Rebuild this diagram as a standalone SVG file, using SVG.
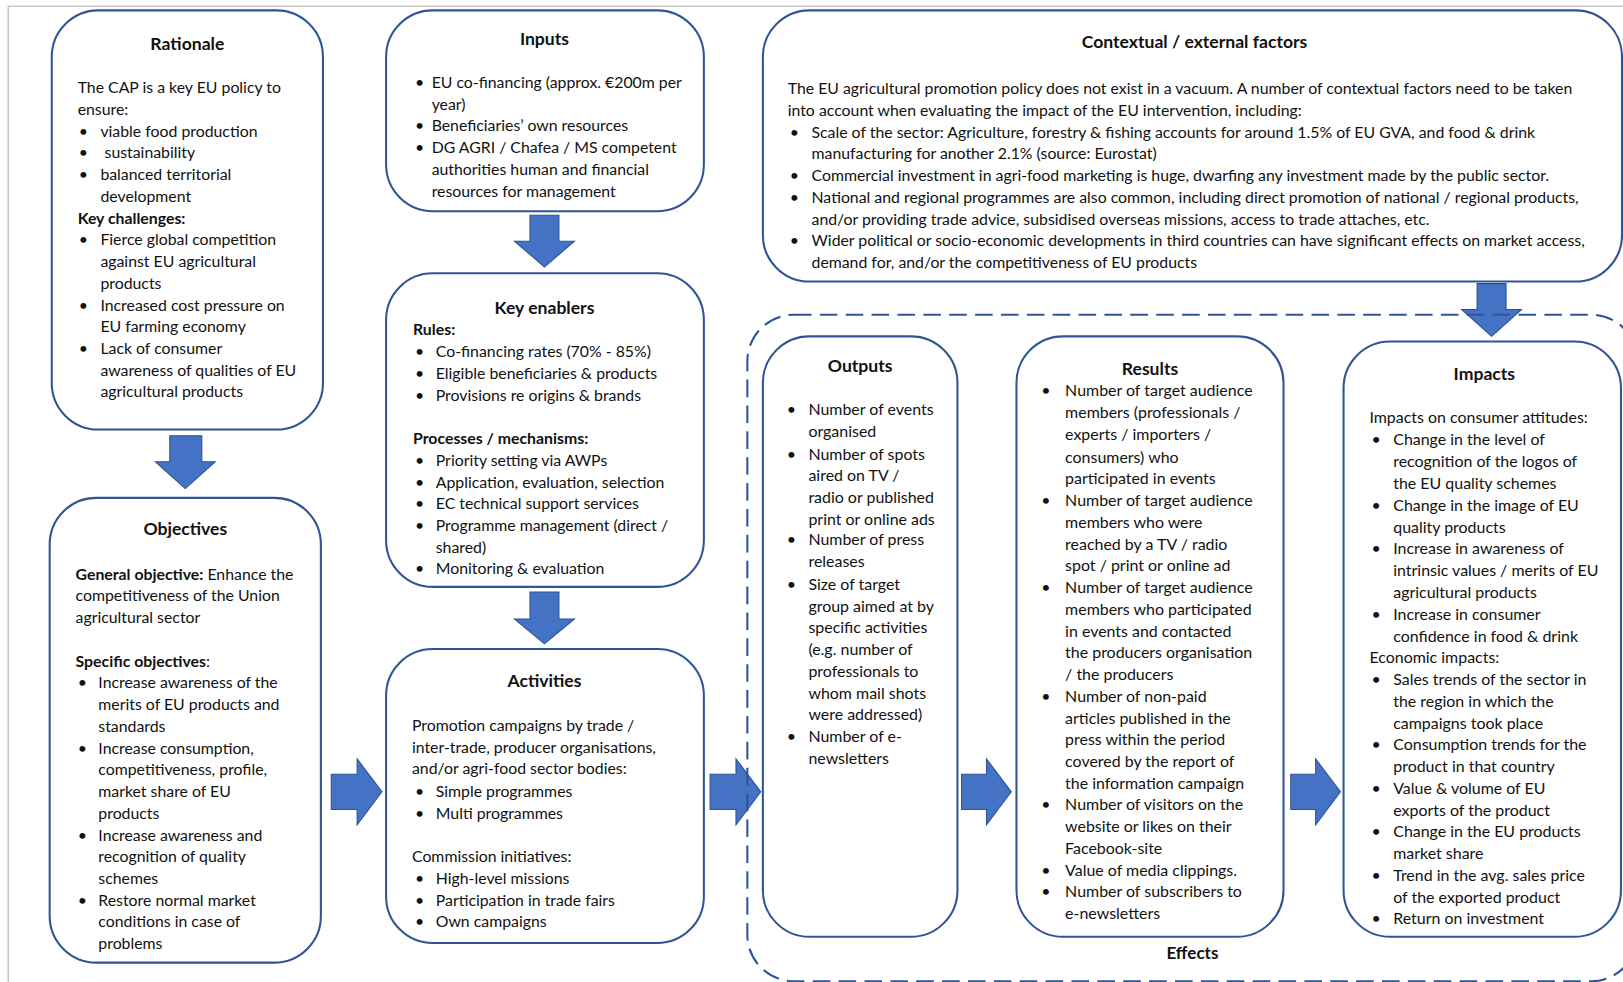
<svg xmlns="http://www.w3.org/2000/svg" width="1623" height="982" viewBox="0 0 1623 982">
<style>
.box{fill:#fff;stroke:#2F5597;stroke-width:2}
.dash{fill:none;stroke:#2F5597;stroke-width:2;stroke-dasharray:17 8}
.arr{fill:#4472C4;stroke:#2F528F;stroke-width:1}
text{font-family:Lato,"Open Sans",sans-serif;fill:#111}
.t{font-size:15.4px}
.n{font-size:15.3px}
.h{font-size:17px;font-weight:bold;text-anchor:middle}
.b{font-weight:bold}
.frame{stroke:#c8c8c8;stroke-width:1.5;fill:none}
</style>
<rect width="1623" height="982" fill="#fff"/>
<g transform="scale(1.0351)">
<path class="frame" d="M8,949 V6 H1568"/>

<g id="connectors">
<polygon class="arr" points="164,421 195,421 195,446 208,446 179,472 150,446 164,446"/>
<polygon class="arr" points="512,208 540,208 540,233 555,233 526,258 497,233 512,233"/>
<polygon class="arr" points="512,572 540,572 540,598 555,598 526,622 497,598 512,598"/>
<polygon class="arr" points="1427,274 1455,274 1455,299 1470,299 1441,325 1412,299 1427,299"/>
<polygon class="arr" points="320,748 345,748 345,733 369,765 345,797 345,782 320,782"/>
<polygon class="arr" points="686,748 711,748 711,733 735,765 711,797 711,782 686,782"/>
<polygon class="arr" points="929,748 953,748 953,733 977,765 953,797 953,782 929,782"/>
<polygon class="arr" points="1247,748 1271,748 1271,733 1295,765 1271,797 1271,782 1247,782"/>
</g>

<g id="effects">
<rect class="dash" x="722" y="304" width="860" height="644" rx="45"/>
<text class="b" x="1152" y="926" text-anchor="middle" style="font-size:16.5px">Effects</text>
</g>

<g id="rationale">
<rect class="box" x="50" y="10" width="262" height="405" rx="45"/>
<text class="h" x="181" y="48">Rationale</text>
<g class="n">
<text x="75" y="90">The CAP is a key EU policy to</text>
<text x="75" y="111">ensure:</text>
<text x="76" y="132">•</text><text x="97" y="132">viable food production</text>
<text x="76" y="153">•</text><text x="101" y="153">sustainability</text>
<text x="76" y="174">•</text><text x="97" y="174">balanced territorial</text>
<text x="97" y="195">development</text>
<text x="75" y="216" class="b">Key challenges:</text>
<text x="76" y="237">•</text><text x="97" y="237">Fierce global competition</text>
<text x="97" y="258">against EU agricultural</text>
<text x="97" y="279">products</text>
<text x="76" y="300">•</text><text x="97" y="300">Increased cost pressure on</text>
<text x="97" y="321">EU farming economy</text>
<text x="76" y="342">•</text><text x="97" y="342">Lack of consumer</text>
<text x="97" y="363">awareness of qualities of EU</text>
<text x="97" y="384">agricultural products</text>
</g>
</g>

<g id="inputs">
<rect class="box" x="373" y="10" width="307" height="194" rx="45"/>
<text class="h" x="526" y="43">Inputs</text>
<g class="n">
<text x="401" y="85">•</text><text x="417" y="85">EU co-financing (approx. €200m per</text>
<text x="417" y="106">year)</text>
<text x="401" y="127">•</text><text x="417" y="127">Beneficiaries’ own resources</text>
<text x="401" y="148">•</text><text x="417" y="148">DG AGRI / Chafea / MS competent</text>
<text x="417" y="169">authorities human and financial</text>
<text x="417" y="190">resources for management</text>
</g>
</g>

<g id="key-enablers">
<rect class="box" x="373" y="264" width="307" height="303" rx="45"/>
<text class="h" x="526" y="303">Key enablers</text>
<g class="n">
<text x="399" y="324" class="b">Rules:</text>
<text x="401" y="345">•</text><text x="421" y="345">Co-financing rates (70% - 85%)</text>
<text x="401" y="366">•</text><text x="421" y="366">Eligible beneficiaries &amp; products</text>
<text x="401" y="387">•</text><text x="421" y="387">Provisions re origins &amp; brands</text>
<text x="399" y="429" class="b">Processes / mechanisms:</text>
<text x="401" y="450">•</text><text x="421" y="450">Priority setting via AWPs</text>
<text x="401" y="471">•</text><text x="421" y="471">Application, evaluation, selection</text>
<text x="401" y="492">•</text><text x="421" y="492">EC technical support services</text>
<text x="401" y="513">•</text><text x="421" y="513">Programme management (direct /</text>
<text x="421" y="534">shared)</text>
<text x="401" y="555">•</text><text x="421" y="555">Monitoring &amp; evaluation</text>
</g>
</g>

<g id="activities">
<rect class="box" x="373" y="627" width="307" height="284" rx="45"/>
<text class="h" x="526" y="664">Activities</text>
<g class="n">
<text x="398" y="706">Promotion campaigns by trade /</text>
<text x="398" y="727">inter-trade, producer organisations,</text>
<text x="398" y="748">and/or agri-food sector bodies:</text>
<text x="401" y="770">•</text><text x="421" y="770">Simple programmes</text>
<text x="401" y="791">•</text><text x="421" y="791">Multi programmes</text>
<text x="398" y="833">Commission initiatives:</text>
<text x="401" y="854">•</text><text x="421" y="854">High-level missions</text>
<text x="401" y="875">•</text><text x="421" y="875">Participation in trade fairs</text>
<text x="401" y="896">•</text><text x="421" y="896">Own campaigns</text>
</g>
</g>

<g id="objectives">
<rect class="box" x="48" y="481" width="262" height="449" rx="45"/>
<text class="h" x="179" y="517">Objectives</text>
<g class="n">
<text x="73" y="560"><tspan class="b">General objective:</tspan> Enhance the</text>
<text x="73" y="581">competitiveness of the Union</text>
<text x="73" y="602">agricultural sector</text>
<text x="73" y="644"><tspan class="b">Specific objectives</tspan>:</text>
<text x="75" y="665">•</text><text x="95" y="665">Increase awareness of the</text>
<text x="95" y="686">merits of EU products and</text>
<text x="95" y="707">standards</text>
<text x="75" y="728">•</text><text x="95" y="728">Increase consumption,</text>
<text x="95" y="749">competitiveness, profile,</text>
<text x="95" y="770">market share of EU</text>
<text x="95" y="791">products</text>
<text x="75" y="812">•</text><text x="95" y="812">Increase awareness and</text>
<text x="95" y="833">recognition of quality</text>
<text x="95" y="854">schemes</text>
<text x="75" y="875">•</text><text x="95" y="875">Restore normal market</text>
<text x="95" y="896">conditions in case of</text>
<text x="95" y="917">problems</text>
</g>
</g>

<g id="contextual">
<rect class="box" x="737" y="10" width="830" height="262" rx="45"/>
<text class="h" x="1154" y="46">Contextual / external factors</text>
<g class="n">
<text x="761" y="91">The EU agricultural promotion policy does not exist in a vacuum. A number of contextual factors need to be taken</text>
<text x="761" y="112">into account when evaluating the impact of the EU intervention, including:</text>
<text x="763" y="133">•</text><text x="784" y="133">Scale of the sector: Agriculture, forestry &amp; fishing accounts for around 1.5% of EU GVA, and food &amp; drink</text>
<text x="784" y="154">manufacturing for another 2.1% (source: Eurostat)</text>
<text x="763" y="175">•</text><text x="784" y="175">Commercial investment in agri-food marketing is huge, dwarfing any investment made by the public sector.</text>
<text x="763" y="196">•</text><text x="784" y="196">National and regional programmes are also common, including direct promotion of national / regional products,</text>
<text x="784" y="217">and/or providing trade advice, subsidised overseas missions, access to trade attaches, etc.</text>
<text x="763" y="238">•</text><text x="784" y="238">Wider political or socio-economic developments in third countries can have significant effects on market access,</text>
<text x="784" y="259">demand for, and/or the competitiveness of EU products</text>
</g>
</g>

<g id="outputs">
<rect class="box" x="737" y="325" width="188" height="580" rx="45"/>
<text class="h" x="831" y="359">Outputs</text>
<g class="t">
<text x="760" y="401">•</text><text x="781" y="401">Number of events</text>
<text x="781" y="422">organised</text>
<text x="760" y="444">•</text><text x="781" y="444">Number of spots</text>
<text x="781" y="465">aired on TV /</text>
<text x="781" y="486">radio or published</text>
<text x="781" y="507">print or online ads</text>
<text x="760" y="527">•</text><text x="781" y="527">Number of press</text>
<text x="781" y="548">releases</text>
<text x="760" y="570">•</text><text x="781" y="570">Size of target</text>
<text x="781" y="591">group aimed at by</text>
<text x="781" y="612">specific activities</text>
<text x="781" y="633">(e.g. number of</text>
<text x="781" y="654">professionals to</text>
<text x="781" y="675">whom mail shots</text>
<text x="781" y="696">were addressed)</text>
<text x="760" y="717">•</text><text x="781" y="717">Number of e-</text>
<text x="781" y="738">newsletters</text>
</g>
</g>

<g id="results">
<rect class="box" x="982" y="325" width="258" height="580" rx="45"/>
<text class="h" x="1111" y="362">Results</text>
<g class="t">
<text x="1006" y="383">•</text><text x="1029" y="383">Number of target audience</text>
<text x="1029" y="404">members (professionals /</text>
<text x="1029" y="425">experts / importers /</text>
<text x="1029" y="447">consumers) who</text>
<text x="1029" y="468">participated in events</text>
<text x="1006" y="489">•</text><text x="1029" y="489">Number of target audience</text>
<text x="1029" y="510">members who were</text>
<text x="1029" y="531">reached by a TV / radio</text>
<text x="1029" y="552">spot / print or online ad</text>
<text x="1006" y="573">•</text><text x="1029" y="573">Number of target audience</text>
<text x="1029" y="594">members who participated</text>
<text x="1029" y="615">in events and contacted</text>
<text x="1029" y="636">the producers organisation</text>
<text x="1029" y="657">/ the producers</text>
<text x="1006" y="678">•</text><text x="1029" y="678">Number of non-paid</text>
<text x="1029" y="699">articles published in the</text>
<text x="1029" y="720">press within the period</text>
<text x="1029" y="741">covered by the report of</text>
<text x="1029" y="762">the information campaign</text>
<text x="1006" y="783">•</text><text x="1029" y="783">Number of visitors on the</text>
<text x="1029" y="804">website or likes on their</text>
<text x="1029" y="825">Facebook-site</text>
<text x="1006" y="846">•</text><text x="1029" y="846">Value of media clippings.</text>
<text x="1006" y="867">•</text><text x="1029" y="867">Number of subscribers to</text>
<text x="1029" y="888">e-newsletters</text>
</g>
</g>

<g id="impacts">
<rect class="box" x="1298" y="330" width="268" height="575" rx="45"/>
<text class="h" x="1434" y="367">Impacts</text>
<g class="t">
<text x="1323" y="409">Impacts on consumer attitudes:</text>
<text x="1325" y="430">•</text><text x="1346" y="430">Change in the level of</text>
<text x="1346" y="451">recognition of the logos of</text>
<text x="1346" y="472">the EU quality schemes</text>
<text x="1325" y="494">•</text><text x="1346" y="494">Change in the image of EU</text>
<text x="1346" y="515">quality products</text>
<text x="1325" y="535">•</text><text x="1346" y="535">Increase in awareness of</text>
<text x="1346" y="556">intrinsic values / merits of EU</text>
<text x="1346" y="578">agricultural products</text>
<text x="1325" y="599">•</text><text x="1346" y="599">Increase in consumer</text>
<text x="1346" y="620">confidence in food &amp; drink</text>
<text x="1323" y="641">Economic impacts:</text>
<text x="1325" y="662">•</text><text x="1346" y="662">Sales trends of the sector in</text>
<text x="1346" y="683">the region in which the</text>
<text x="1346" y="704">campaigns took place</text>
<text x="1325" y="725">•</text><text x="1346" y="725">Consumption trends for the</text>
<text x="1346" y="746">product in that country</text>
<text x="1325" y="767">•</text><text x="1346" y="767">Value &amp; volume of EU</text>
<text x="1346" y="788">exports of the product</text>
<text x="1325" y="809">•</text><text x="1346" y="809">Change in the EU products</text>
<text x="1346" y="830">market share</text>
<text x="1325" y="851">•</text><text x="1346" y="851">Trend in the avg. sales price</text>
<text x="1346" y="872">of the exported product</text>
<text x="1325" y="893">•</text><text x="1346" y="893">Return on investment</text>
</g>
</g>
</g>
</svg>
